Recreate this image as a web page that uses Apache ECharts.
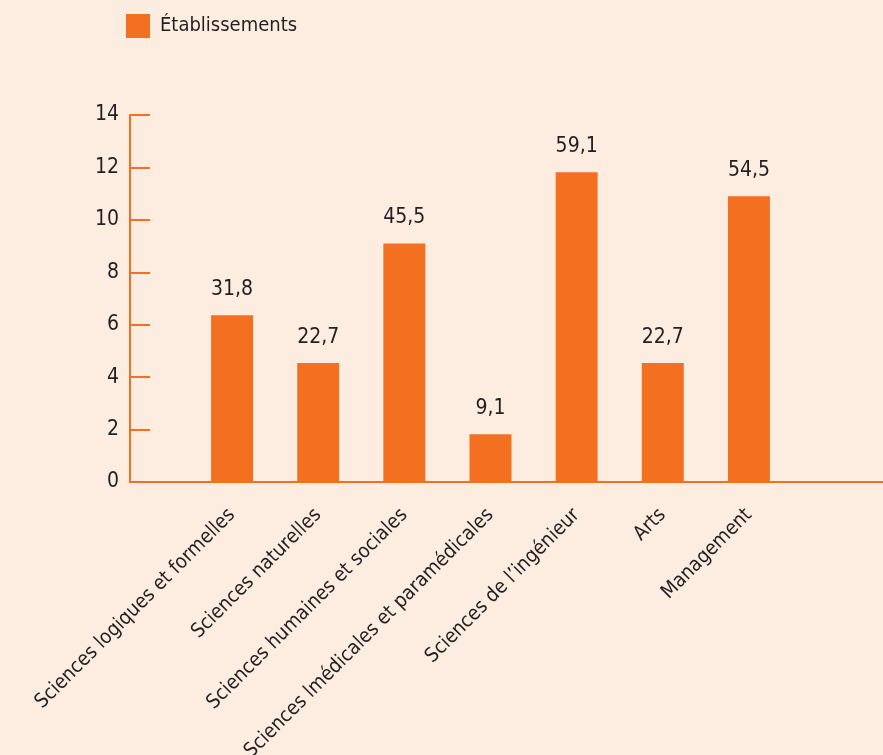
<!DOCTYPE html>
<html>
<head>
<meta charset="utf-8">
<script src="https://cdn.jsdelivr.net/npm/echarts@6/dist/echarts.min.js"></script>
<style>
html,body{margin:0;padding:0;background:#fdede0;}
#c{width:883px;height:755px;}
</style>
</head>
<body>
<div id="c"></div>
<script>
const categories = ['Sciences logiques et formelles','Sciences naturelles','Sciences humaines et sociales','Sciences lmédicales et paramédicales',"Sciences de l’ingénieur",'Arts','Management'];
const barHeights = [6.36, 4.54, 9.1, 1.82, 11.82, 4.54, 10.9];
const barLabels = ['31,8','22,7','45,5','9,1','59,1','22,7','54,5'];
const yTicks = [0, 2, 4, 6, 8, 10, 12, 14];
const seriesName = 'Établissements';

const ORANGE = '#f37021';
const TXT = '#231f20';
const FONT = '"Liberation Sans Narrow", "DejaVu Sans Condensed", sans-serif';

const chart = echarts.init(document.getElementById('c'));
chart.setOption({
  backgroundColor: '#fdede0',
  textStyle: { fontFamily: FONT, color: TXT },
  legend: {
    data: [seriesName], left: 126, top: 14, icon: 'rect', padding: 0,
    itemWidth: 24, itemHeight: 24, itemGap: 10,
    textStyle: { fontFamily: FONT, fontSize: 20, color: TXT, padding: [0, 0, 0, 5] }
  },
  grid: [
    { left: 130, right: 0, top: 115, bottom: 273, outerBoundsMode: 'none', containLabel: false },
    { left: 189, right: 91, top: 115, bottom: 273, outerBoundsMode: 'none', containLabel: false }
  ],
  xAxis: [
    { gridIndex: 0, type: 'value', min: 0, max: 1,
      axisLine: { show: true, lineStyle: { color: ORANGE, width: 2 } },
      axisTick: { show: false }, axisLabel: { show: false }, splitLine: { show: false } },
    { gridIndex: 1, type: 'category', data: categories,
      axisLine: { show: false }, axisTick: { show: false },
      axisLabel: { rotate: 45, interval: 0, fontSize: 20, fontFamily: FONT, color: TXT, margin: 30 } }
  ],
  yAxis: [
    { gridIndex: 0, type: 'value', min: yTicks[0], max: yTicks[yTicks.length - 1], interval: 2,
      axisLine: { show: true, lineStyle: { color: ORANGE, width: 2 } },
      axisTick: { show: true, inside: true, length: 20, lineStyle: { color: ORANGE, width: 2 } },
      axisLabel: { fontSize: 21, fontFamily: FONT, color: TXT, margin: 11 },
      splitLine: { show: false } },
    { gridIndex: 1, type: 'value', min: 0, max: 14, show: false }
  ],
  series: [{
    name: seriesName, type: 'bar', xAxisIndex: 1, yAxisIndex: 1,
    data: barHeights, barWidth: 42,
    itemStyle: { color: ORANGE },
    label: {
      show: true, position: 'top', distance: 15,
      fontSize: 21, fontFamily: FONT, color: TXT,
      formatter: p => barLabels[p.dataIndex]
    }
  }]
});
</script>
</body>
</html>
